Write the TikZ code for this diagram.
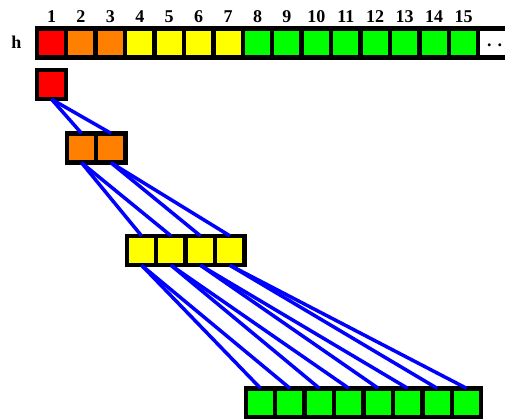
\documentclass[tikz,border=0pt]{standalone}
\usepackage{fontspec}
\setmainfont{Liberation Serif}
\definecolor{hred}{RGB}{255,0,0}
\definecolor{horange}{RGB}{255,128,0}
\definecolor{hyellow}{RGB}{255,255,0}
\definecolor{hgreen}{RGB}{0,255,0}
\definecolor{hblue}{RGB}{0,0,255}
\begin{document}
\begin{tikzpicture}[x=1pt,y=-1pt,
  cell/.style={draw=black,line width=4.5pt,minimum size=29.45pt,inner sep=0pt,outer sep=0pt},
  lab/.style={font=\fontsize{18}{20}\selectfont\bfseries,anchor=base,inner sep=0pt},
  link/.style={draw=hblue,line width=3.5pt}]
\useasboundingbox (0,0) rectangle (505,418);
% top array
\foreach \i/\c in {1/hred,2/horange,3/horange,4/hyellow,5/hyellow,6/hyellow,7/hyellow,
  8/hgreen,9/hgreen,10/hgreen,11/hgreen,12/hgreen,13/hgreen,14/hgreen,15/hgreen}{
  \node[cell,fill=\c] (t\i) at ({51.5+29.43*(\i-1)},43) {};
  \node[lab] (l\i) at ({51.5+29.43*(\i-1)},22) {\i};
}
\node[cell,fill=white] (t16) at ({51.5+29.43*15},43) {};
\node[lab,anchor=base west] (dots) at (487,46) {. . .};
\node[lab] (h) at (16.5,48) {h};
% heap levels
\node[cell,fill=hred] (n1) at (51.5,84.5) {};
\foreach \k in {0,1}{
  \pgfmathtruncatemacro\m{2+\k}
  \node[cell,fill=horange] (n\m) at ({81.5+29.43*\k},148) {};
}
\foreach \k in {0,...,3}{
  \pgfmathtruncatemacro\m{4+\k}
  \node[cell,fill=hyellow] (n\m) at ({141.5+29.43*\k},250.5) {};
}
\foreach \k in {0,...,7}{
  \pgfmathtruncatemacro\m{8+\k}
  \node[cell,fill=hgreen] (n\m) at ({260.5+29.43*\k},403) {};
}
% links
\foreach \i in {1,...,7}{
  \pgfmathtruncatemacro\a{2*\i}
  \pgfmathtruncatemacro\b{2*\i+1}
  \draw[link] (n\i.south) -- (n\a.north);
  \draw[link] (n\i.south) -- (n\b.north);
}
\end{tikzpicture}
\end{document}
